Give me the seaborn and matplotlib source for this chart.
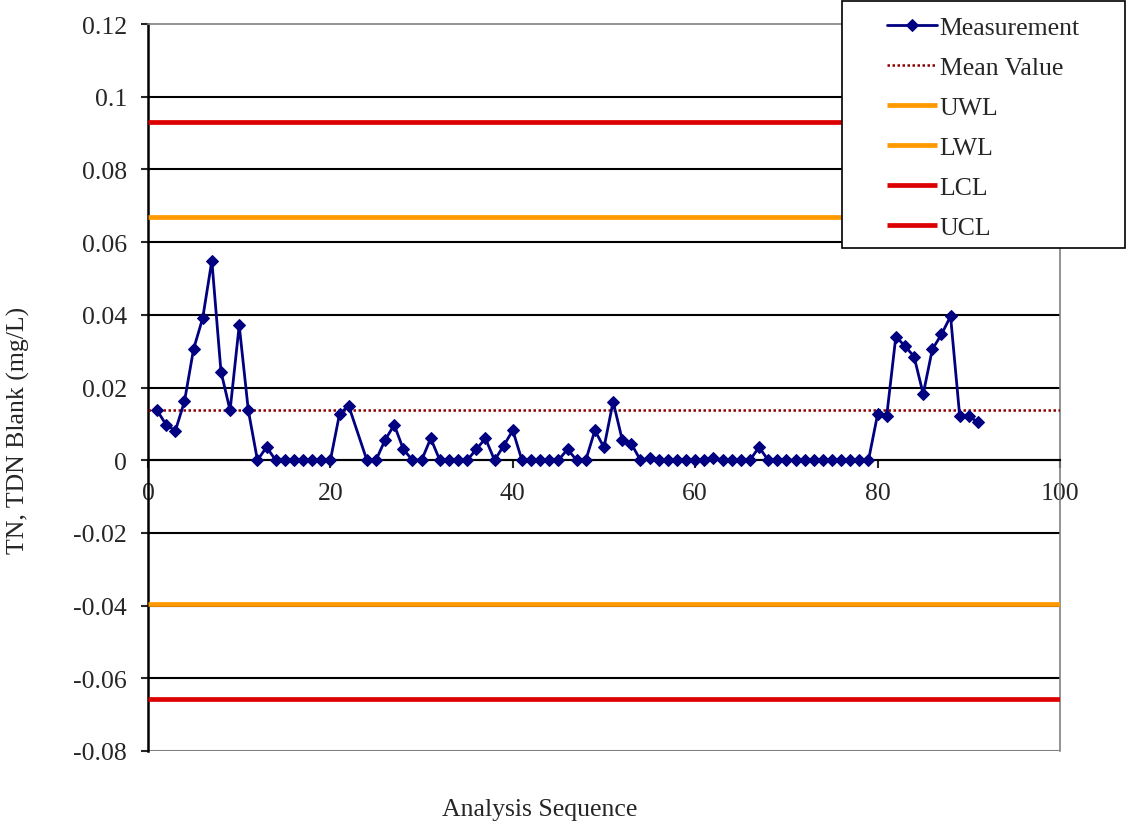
import seaborn as sns
import matplotlib.pyplot as plt
import pandas as pd
from matplotlib.patches import Rectangle

seq = [1, 2, 3, 4, 5, 6, 7, 8, 9, 10, 11, 12, 13, 14, 15, 16, 17, 18, 19, 20,
       21, 22, 24, 25, 26, 27, 28, 29, 30, 31, 32, 33, 34, 35, 36, 37, 38, 39, 40,
       41, 42, 43, 44, 45, 46, 47, 48, 49, 50, 51, 52, 53, 54, 55, 56, 57, 58, 59,
       60, 61, 62, 63, 64, 65, 66, 67, 68, 69, 70, 71, 72, 73, 74, 75, 76, 77, 78,
       79, 80, 81, 82, 83, 84, 85, 86, 87, 88, 89, 90, 91]
measurement = [0.0137, 0.0097, 0.0081, 0.0162, 0.0306, 0.0391, 0.0549, 0.0244, 0.0137, 0.0371,
               0.0137, 0.0, 0.0036, 0.0, 0.0, 0.0, 0.0, 0.0, 0.0, 0.0,
               0.0127, 0.0150, 0.0, 0.0, 0.0056, 0.0097, 0.0030, 0.0, 0.0, 0.0060,
               0.0, 0.0, 0.0, 0.0, 0.0030, 0.0060, 0.0, 0.0040, 0.0082,
               0.0, 0.0, 0.0, 0.0, 0.0, 0.0030, 0.0, 0.0, 0.0082, 0.0035, 0.0161,
               0.0056, 0.0045, 0.0, 0.0005, 0.0, 0.0, 0.0, 0.0, 0.0, 0.0, 0.0005,
               0.0, 0.0, 0.0, 0.0, 0.0036, 0.0, 0.0, 0.0, 0.0, 0.0, 0.0, 0.0,
               0.0, 0.0, 0.0, 0.0, 0.0, 0.0126, 0.0122, 0.0340, 0.0314, 0.0285, 0.0182,
               0.0305, 0.0346, 0.0396, 0.0122, 0.0122, 0.0104]

mean_value = 0.0137
uwl = 0.0668
lwl = -0.0395
lcl = -0.0657
ucl = 0.0931

y_ticks = [0.12, 0.1, 0.08, 0.06, 0.04, 0.02, 0, -0.02, -0.04, -0.06, -0.08]
y_tick_labels = ["0.12", "0.1", "0.08", "0.06", "0.04", "0.02", "0", "-0.02", "-0.04", "-0.06", "-0.08"]
x_ticks = [0, 20, 40, 60, 80, 100]

FS = 18.5

sns.set_style("white")
plt.rcParams['font.family'] = ['Liberation Serif', 'DejaVu Serif']
plt.rcParams['font.size'] = FS

df = pd.DataFrame({"seq": seq, "value": measurement})

fig = plt.figure(figsize=(11.27, 8.29), dpi=100)
ax = fig.add_axes([148 / 1127, 1 - 752 / 829, (1060 - 148) / 1127, (752 - 25) / 829])

# inner grid lines black, outer edges of the plot area grey
for yv in y_ticks[1:-1]:
    ax.axhline(yv, color="black", lw=1.5, zorder=1)
ax.axhline(y_ticks[-1], color="#808080", lw=1.5, zorder=1)

ax.hlines(mean_value, 0, 100, colors="#8B0000", linestyles=(0, (1, 1)), lw=1.8,
          label="Mean Value", zorder=3)
ax.hlines(uwl, 0, 100, colors="#FF9900", lw=3.4, label="UWL", zorder=3)
ax.hlines(lwl, 0, 100, colors="#FF9900", lw=3.4, label="LWL", zorder=3)
ax.hlines(lcl, 0, 100, colors="#DD0000", lw=3.4, label="LCL", zorder=3)
ax.hlines(ucl, 0, 100, colors="#DD0000", lw=3.4, label="UCL", zorder=3)

sns.lineplot(data=df, x="seq", y="value", ax=ax, color="#000080", lw=2,
             marker="D", markersize=6, markeredgecolor="#000080",
             label="Measurement", zorder=4)

ax.set_xlim(0, 100)
ax.set_ylim(-0.08, 0.12)
ax.set_xticks(x_ticks)
ax.set_yticks(y_ticks)
ax.set_yticklabels(y_tick_labels)
ax.set_xlabel("")
ax.set_ylabel("")

ax.spines["bottom"].set_position(("data", 0))
ax.spines["bottom"].set_color("black")
ax.spines["bottom"].set_linewidth(1.5)
ax.spines["left"].set_color("black")
ax.spines["left"].set_linewidth(1.8)
ax.spines["top"].set_color("#808080")
ax.spines["right"].set_color("#808080")
ax.spines["top"].set_linewidth(1.2)
ax.spines["right"].set_linewidth(1.2)
ax.tick_params(axis="x", direction="out", length=6, width=1.5, pad=10, bottom=True)
ax.tick_params(axis="y", direction="out", length=5, width=1.5, pad=10, left=True)
for lbl in ax.get_xticklabels():
    lbl.set_zorder(10)

fig.text(18 / 1127, 1 - 430 / 829, "TN, TDN Blank (mg/L)", rotation=90,
         ha="center", va="center", fontsize=FS)
fig.text(540 / 1127, 1 - 810 / 829, "Analysis Sequence", ha="center", va="center", fontsize=FS)

# legend box drawn at the reference spot, entries placed inside it
handles, labels = ax.get_legend_handles_labels()
ax.get_legend().remove()
order = ["Measurement", "Mean Value", "UWL", "LWL", "LCL", "UCL"]
hmap = dict(zip(labels, handles))
fig.patches.append(Rectangle((842 / 1127, 1 - 249 / 829), 283 / 1127, 247 / 829,
                             transform=fig.transFigure, facecolor="white",
                             edgecolor="black", lw=1.2, zorder=5))
leg = fig.legend([hmap[k] for k in order], order, loc="upper left",
                 bbox_to_anchor=(887 / 1127, 1 - 17 / 829), frameon=False,
                 fontsize=FS, handlelength=1.95, handletextpad=0.1,
                 labelspacing=0.66, numpoints=1, borderpad=0, borderaxespad=0)
leg.set_zorder(6)

fig.savefig("out.png", dpi=100)
